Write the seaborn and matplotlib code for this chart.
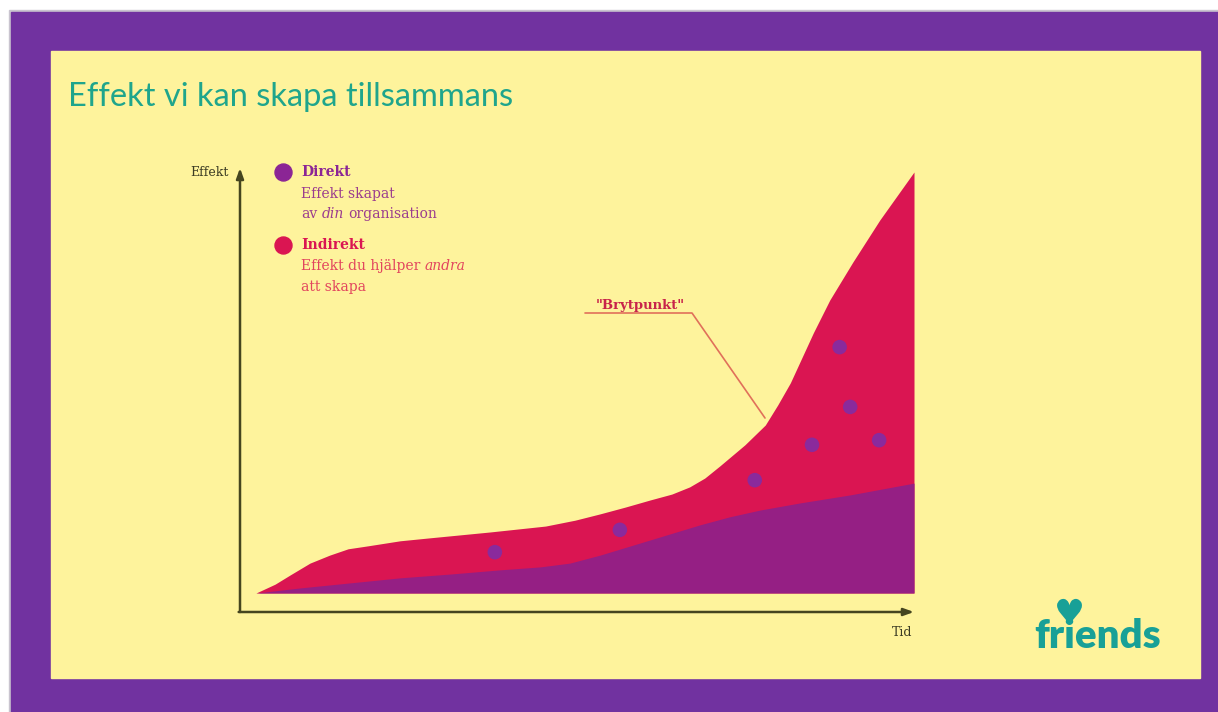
import matplotlib
matplotlib.use("Agg")
import matplotlib.pyplot as plt
import seaborn as sns
import pandas as pd

# --- data ---
tid_total = [0, 2.9, 5.2, 8.2, 11.2, 14.0, 17.0, 21.9, 26.4, 35.6, 44.0, 48.5, 52.3, 56.1,
             59.9, 63.2, 65.9, 68.2, 70.5, 74.3, 77.4, 79.3, 81.2, 84.7, 87.2, 90.7, 94.8, 100]
effekt_total = [0, 2.1, 4.3, 7.1, 9.0, 10.5, 11.2, 12.4, 13.1, 14.5, 15.9, 17.3, 18.8, 20.4,
                22.1, 23.5, 25.2, 27.3, 30.2, 35.2, 39.9, 44.7, 49.9, 61.8, 69.6, 78.6, 88.6, 100]

tid_direkt = [0, 6.7, 14.3, 21.9, 29.5, 37.1, 43.2, 47.7, 52.3, 59.9, 67.5, 72.0, 76.6, 82.7, 90.3, 100]
effekt_direkt = [0, 1.2, 2.4, 3.6, 4.5, 5.5, 6.2, 7.1, 9.0, 12.6, 16.2, 18.1, 19.7, 21.4, 23.3, 26.1]

prick_tid = [36.3, 55.3, 75.8, 84.5, 88.7, 90.3, 94.7]
prick_effekt = [9.7, 15.0, 26.8, 35.2, 58.4, 44.2, 36.3]

titel = "Effekt vi kan skapa tillsammans"

# colours
LILA_RAM = "#7132a0"
GUL = "#fef39c"
TEAL = "#1fa58c"
ROSA = "#da1552"
LILA = "#951f84"
PRICK = "#8a2a9c"
AXEL = "#45451f"

sns.set_theme(style="white")
W, H = 1218, 712
fig = plt.figure(figsize=(W / 100, H / 100), dpi=100)
fig.patch.set_facecolor("white")

# background axes in pixel units for the frame
bg = fig.add_axes([0, 0, 1, 1])
bg.set_xlim(0, W)
bg.set_ylim(H, 0)
bg.axis("off")
bg.add_patch(plt.Rectangle((9, 10), W, H, color="#c9c4cf", zorder=0))
bg.add_patch(plt.Rectangle((11, 12), W, H, color=LILA_RAM, zorder=1))
bg.add_patch(plt.Rectangle((51, 51), 1149, 627, color=GUL, zorder=2))

def fx(x):
    return x / W

def fy(y):
    return 1 - y / H

# title
fig.text(fx(68), fy(97), titel, color=TEAL, fontsize=23.5, family="Lato",
         va="center", ha="left", zorder=5)

# logo (heart drawn as a marker over the i)
fig.text(fx(1098), fy(636), "friends", color="#18a097", fontsize=29, family="Lato",
         fontweight="heavy", va="center", ha="center", zorder=5)
bg.scatter([1069], [611], marker="$\u2665$", s=330, color="#18a097", linewidths=0, zorder=6)

# chart axes
x0, x1 = 240, 914
y0, y1 = 612, 168
ax = fig.add_axes([fx(x0), fy(y0), (x1 - x0) / W, (y0 - y1) / H])
ax.patch.set_alpha(0)
sx = (x1 - 256) / 100
sy = (593 - 172) / 100
ax.set_xlim(-(256 - x0) / sx, 100)
ax.set_ylim(-(y0 - 593) / sy, (593 - y1) / sy)
for s in ax.spines.values():
    s.set_visible(False)
ax.set_xticks([])
ax.set_yticks([])

ax.fill_between(tid_total, 0, effekt_total, color=ROSA, lw=0, zorder=2)
ax.fill_between(tid_direkt, 0, effekt_direkt, color=LILA, lw=0, zorder=3)
df = pd.DataFrame({"tid": prick_tid, "effekt": prick_effekt})
sns.scatterplot(data=df, x="tid", y="effekt", ax=ax, color=PRICK, s=110,
                edgecolor="none", zorder=4)

# axis arrows
arrow = dict(arrowstyle="-|>,head_length=0.5,head_width=0.18", color=AXEL, lw=1.8,
             shrinkA=0, shrinkB=0)
ax.annotate("", xy=(0, 1), xytext=(0, 0), xycoords="axes fraction", arrowprops=arrow)
ax.annotate("", xy=(1, 0), xytext=(-0.002, 0), xycoords="axes fraction", arrowprops=arrow)

serif = "DejaVu Serif"
fig.text(fx(229), fy(172), "Effekt", color="#3c3c24", fontsize=9, family=serif,
         ha="right", va="center")
fig.text(fx(912), fy(633), "Tid", color="#3c3c24", fontsize=9, family=serif,
         ha="right", va="center")

# Brytpunkt annotation
ax.text((640 - 256) / sx, (593 - 305) / sy, "\"Brytpunkt\"", color="#c8234a",
        fontsize=9.5, family=serif, fontweight="bold", ha="center", va="center")
ax.plot([(585 - 256) / sx, (692 - 256) / sx, (765 - 256) / sx],
        [(593 - 313) / sy, (593 - 313) / sy, (593 - 418) / sy],
        color="#e0705a", lw=1.2, zorder=1)

# legend
bg.scatter([283], [172], s=150, color="#8b2595", zorder=5)
bg.scatter([283], [245], s=150, color=ROSA, zorder=5)

def rad(x, y, delar, color, size=10, weight="normal"):
    prev = fig.text(fx(x), fy(y), delar[0][0], color=color, fontsize=size, family=serif,
                    fontweight=weight, style=delar[0][1], va="center", ha="left", zorder=6)
    for txt, stil in delar[1:]:
        prev = bg.annotate(txt, xy=(1, 0.5), xycoords=prev, xytext=(3.2, 0),
                           textcoords="offset points", color=color, fontsize=size,
                           family=serif, style=stil, va="center", ha="left", zorder=6)

rad(301, 172, [("Direkt", "normal")], "#8b2595", weight="bold")
rad(301, 194, [("Effekt skapat", "normal")], "#9b3d8e")
rad(301, 214, [("av", "normal"), ("din", "italic"), ("organisation", "normal")], "#9b3d8e")
rad(301, 245, [("Indirekt", "normal")], ROSA, weight="bold")
rad(301, 266, [("Effekt du hjälper", "normal"), ("andra", "italic")], "#e2455e")
rad(301, 287, [("att skapa", "normal")], "#e2455e")

fig.savefig("out.png", dpi=100, facecolor=fig.get_facecolor())
